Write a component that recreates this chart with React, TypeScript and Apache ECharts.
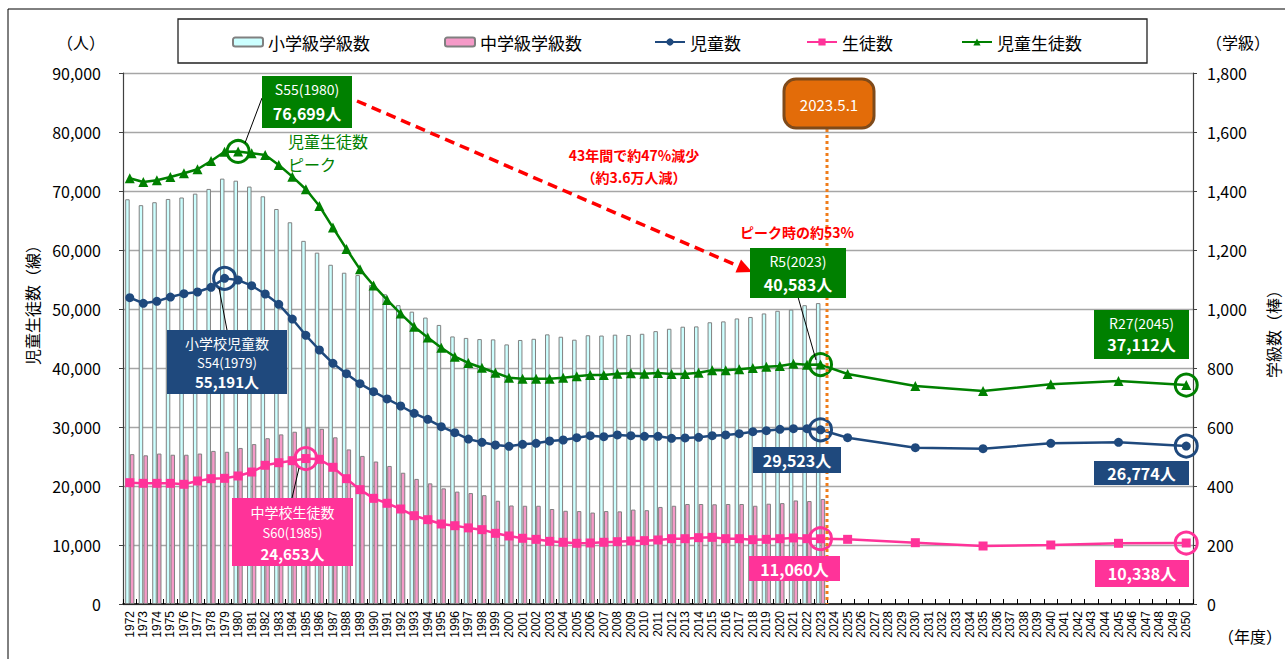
import React, { useEffect, useRef } from "react";
import * as echarts from "echarts";

const years = [
  "1972","1973","1974","1975","1976","1977","1978","1979","1980","1981",
  "1982","1983","1984","1985","1986","1987","1988","1989","1990","1991",
  "1992","1993","1994","1995","1996","1997","1998","1999","2000","2001",
  "2002","2003","2004","2005","2006","2007","2008","2009","2010","2011",
  "2012","2013","2014","2015","2016","2017","2018","2019","2020","2021",
  "2022","2023","2024","2025","2026","2027","2028","2029","2030","2031",
  "2032","2033","2034","2035","2036","2037","2038","2039","2040","2041",
  "2042","2043","2044","2045","2046","2047","2048","2049","2050",
];

// classes (bars, right axis), 1972-2023
const elemClasses = [
  1372, 1352, 1362, 1373, 1378, 1391, 1407, 1442, 1435, 1415,
  1382, 1339, 1294, 1231, 1191, 1150, 1123, 1115, 1081, 1050,
  1013, 991, 971, 946, 907, 902, 898, 897, 880, 895,
  899, 914, 906, 896, 911, 910, 913, 912, 916, 925,
  933, 940, 941, 955, 958, 968, 973, 985, 994, 998,
  1013, 1020,
];
const midClasses = [
  508, 504, 510, 506, 506, 510, 519, 516, 529, 542,
  562, 575, 584, 598, 594, 565, 524, 502, 483, 468,
  445, 424, 409, 392, 381, 376, 369, 350, 334, 333,
  333, 322, 316, 315, 310, 315, 314, 320, 318, 329,
  333, 339, 339, 338, 339, 339, 333, 340, 342, 351,
  349, 356,
];

// students (lines, left axis), 1972-2023
const elemStudents = [
  51920, 50970, 51300, 52030, 52600, 52880, 53680, 55191, 54900, 53950,
  52540, 50800, 48300, 45540, 43050, 40800, 39040, 37340, 35990, 34750,
  33560, 32320, 31300, 30050, 29030, 27950, 27400, 26950, 26730, 27070,
  27240, 27630, 27800, 28190, 28530, 28360, 28650, 28530, 28420, 28420,
  28080, 28140, 28250, 28530, 28650, 28860, 29200, 29370, 29600, 29710,
  29710, 29523,
];
const midStudents = [
  20560, 20450, 20450, 20450, 20290, 20850, 21240, 21300, 21700, 22370,
  23510, 23950, 24290, 24653, 24520, 23170, 21240, 19380, 17910, 17070,
  16100, 14970, 14290, 13560, 13270, 12900, 12600, 11980, 11530, 11140,
  10960, 10620, 10460, 10290, 10340, 10460, 10560, 10680, 10740, 10850,
  11070, 11070, 11240, 11300, 11070, 11070, 10900, 10960, 11070, 11190,
  11070, 11060,
];
const totalStudents = [
  72150, 71530, 71820, 72370, 73000, 73680, 75090, 76660, 76699, 76390,
  76100, 74400, 72430, 70290, 67460, 63800, 60170, 56720, 53990, 51530,
  49230, 47000, 45170, 43440, 41920, 40850, 40050, 39200, 38360, 38190,
  38190, 38190, 38360, 38590, 38810, 38810, 39040, 39100, 39040, 39150,
  38980, 38980, 39200, 39610, 39610, 39780, 40000, 40220, 40340, 40730,
  40560, 40583,
];

// projections
const futureYears = ["2025", "2030", "2035", "2040", "2045", "2050"];
const elemFuture = [28190, 26500, 26330, 27240, 27400, 26774];
const midFuture = [10960, 10390, 9830, 10000, 10290, 10338];
const totalFuture = [38980, 36950, 36100, 37240, 37800, 37112];

const leftTicks = [0, 10000, 20000, 30000, 40000, 50000, 60000, 70000, 80000, 90000];

const JP = '"Noto Sans CJK JP", sans-serif';
const NAVY = "#1f497d";
const PINK = "#ff3399";
const GREEN = "#008000";

function full(hist: number[], fut: number[]) {
  return years.map((y, i) => {
    if (i < hist.length) return hist[i];
    const k = futureYears.indexOf(y);
    return k >= 0 ? fut[k] : null;
  });
}

function box(x: number, y: number, w: number, h: number, fill: string, lines: { t: string; y: number; bold?: boolean; size?: number }[]) {
  const els: any[] = [
    { type: "rect", z: 100, shape: { x, y, width: w, height: h }, style: { fill } },
  ];
  lines.forEach((l) => {
    els.push({
      type: "text",
      z: 101,
      x: x + w / 2,
      y: l.y,
      style: {
        text: l.t,
        fill: "#fff",
        font: `${l.bold ? "bold " : ""}${l.size || 14}px ${JP}`,
        textAlign: "center",
        textVerticalAlign: "middle",
      },
    });
  });
  return els;
}

function leader(x1: number, y1: number, x2: number, y2: number) {
  return { type: "line", z: 99, shape: { x1, y1, x2, y2 }, style: { stroke: "#000", lineWidth: 1 } };
}

function txt(t: string, x: number, y: number, fill: string, size: number, bold = false, align = "center", rotation = 0) {
  return {
    type: "text",
    z: 101,
    x,
    y,
    rotation,
    style: {
      text: t,
      fill,
      font: `${bold ? "bold " : ""}${size}px ${JP}`,
      textAlign: align,
      textVerticalAlign: "middle",
    },
  };
}

function ringPoints(color: string, pts: [string, number][]) {
  return {
    symbol: "circle",
    symbolSize: 22,
    silent: true,
    label: { show: false },
    itemStyle: { color: "rgba(0,0,0,0)", borderColor: color, borderWidth: 3 },
    data: pts.map((p) => ({ coord: p })),
  };
}

export default function App() {
  const ref = useRef<HTMLDivElement>(null);
  useEffect(() => {
    document.body.style.margin = "0";
    const chart = echarts.init(ref.current!, null, { renderer: "svg" });

    // arrow
    const tip = [752, 272];
    const start = [357, 101];
    const dx = tip[0] - start[0];
    const dy = tip[1] - start[1];
    const len = Math.sqrt(dx * dx + dy * dy);
    const ux = dx / len;
    const uy = dy / len;
    const bx = tip[0] - 15 * ux;
    const by = tip[1] - 15 * uy;
    const nx = -uy;
    const ny = ux;

    const graphics: any[] = [
      { type: "rect", z: 0, shape: { x: 8, y: 9, width: 1300, height: 700 }, style: { fill: "none", stroke: "#000", lineWidth: 1 } },
      { type: "rect", z: 0, shape: { x: 178, y: 19, width: 969, height: 44 }, style: { fill: "none", stroke: "#222", lineWidth: 1.3 } },
      txt("（人）", 81, 42, "#000", 16),
      txt("（学級）", 1238, 42, "#000", 16),
      txt("（年度）", 1250, 636, "#000", 16),
      txt("児童生徒数（線）", 32, 301, "#000", 16, false, "center", Math.PI / 2),
      txt("学級数（棒）", 1273, 330, "#000", 16, false, "center", Math.PI / 2),
      // orange date line and box
      { type: "line", z: 98, shape: { x1: 827, y1: 129, x2: 827, y2: 604 }, style: { stroke: "#f07d1a", lineWidth: 3, lineDash: [3, 3] } },
      { type: "rect", z: 100, shape: { x: 784, y: 79, width: 90, height: 49, r: 12 }, style: { fill: "#e36c09", stroke: "#7f4a1a", lineWidth: 3 } },
      txt("2023.5.1", 829, 104, "#fff", 15),
      // red arrow
      { type: "line", z: 99, shape: { x1: start[0], y1: start[1], x2: bx, y2: by }, style: { stroke: "#ff0000", lineWidth: 3.5, lineDash: [10, 6] } },
      { type: "polygon", z: 99, shape: { points: [[tip[0], tip[1]], [bx + 7 * nx, by + 7 * ny], [bx - 7 * nx, by - 7 * ny]] }, style: { fill: "#ff0000" } },
      txt("43年間で約47%減少", 634, 155, "#ff0000", 14, true),
      txt("（約3.6万人減）", 634, 177, "#ff0000", 14, true),
      txt("ピーク時の約53%", 797, 232, "#ff0000", 14, true),
      txt("児童生徒数", 288, 141, GREEN, 16, false, "left"),
      txt("ピーク", 288, 164, GREEN, 16, false, "left"),
      leader(262, 98, 245, 143),
      ...box(262, 76, 90, 52, GREEN, [
        { t: "S55(1980)", y: 89, size: 14 },
        { t: "76,699人", y: 113, bold: true, size: 16 },
      ]),
      leader(798, 297, 816, 360),
      ...box(750, 248, 96, 50, GREEN, [
        { t: "R5(2023)", y: 261, size: 14 },
        { t: "40,583人", y: 284, bold: true, size: 16 },
      ]),
      ...box(753, 447, 88, 26, NAVY, [{ t: "29,523人", y: 460, bold: true, size: 16 }]),
      ...box(749, 556, 91, 25, PINK, [{ t: "11,060人", y: 569, bold: true, size: 16 }]),
      leader(227, 330, 219, 288),
      ...box(167, 330, 120, 64, NAVY, [
        { t: "小学校児童数", y: 343, size: 14 },
        { t: "S54(1979)", y: 362, size: 13 },
        { t: "55,191人", y: 381, bold: true, size: 15 },
      ]),
      leader(292, 498, 299, 468),
      ...box(232, 498, 121, 68, PINK, [
        { t: "中学校生徒数", y: 512, size: 14 },
        { t: "S60(1985)", y: 532, size: 13 },
        { t: "24,653人", y: 553, bold: true, size: 15 },
      ]),
      ...box(1094, 310, 95, 49, GREEN, [
        { t: "R27(2045)", y: 323, size: 14 },
        { t: "37,112人", y: 344, bold: true, size: 16 },
      ]),
      ...box(1094, 461, 95, 24, NAVY, [{ t: "26,774人", y: 473, bold: true, size: 16 }]),
      ...box(1095, 560, 94, 27, PINK, [{ t: "10,338人", y: 573, bold: true, size: 16 }]),
    ];

    const legendBase = (name: string, left: number) => ({
      data: [name],
      left,
      top: 31,
      padding: 0,
      itemWidth: 30,
      itemHeight: 9,
      textStyle: { fontSize: 17, color: "#000", fontFamily: JP, lineHeight: 22 },
    });

    chart.setOption({
      animation: false,
      textStyle: { fontFamily: JP },
      grid: { left: 123, right: 92, top: 73, bottom: 55, containLabel: false },
      legend: [
        legendBase("小学級学級数", 232),
        legendBase("中学級学級数", 444),
        legendBase("児童数", 654),
        legendBase("生徒数", 806),
        legendBase("児童生徒数", 961),
      ],
      xAxis: {
        type: "category",
        data: years,
        boundaryGap: true,
        axisLine: { lineStyle: { color: "#000", width: 1.5 } },
        axisTick: { show: true, inside: true, length: 5, interval: 0, lineStyle: { color: "#000" } },
        axisLabel: { interval: 0, rotate: 90, fontSize: 12, color: "#000", margin: 7, fontFamily: '"Liberation Sans", sans-serif' },
      },
      yAxis: [
        {
          type: "value",
          min: 0,
          max: 90000,
          interval: 10000,
          axisLine: { show: true, lineStyle: { color: "#404040", width: 1.2 } },
          axisTick: { show: true, length: 4, lineStyle: { color: "#404040" } },
          splitLine: { show: true, lineStyle: { color: "#a6a6a6", width: 1.3 } },
          axisLabel: {
            fontSize: 16,
            color: "#000",
            margin: 22,
            fontFamily: JP,
            formatter: (v: number) => (leftTicks.indexOf(v) >= 0 ? v.toLocaleString("en-US") : ""),
          },
        },
        {
          type: "value",
          min: 0,
          max: 1800,
          interval: 200,
          axisLine: { show: true, lineStyle: { color: "#404040", width: 1.2 } },
          axisTick: { show: true, length: 4, lineStyle: { color: "#404040" } },
          splitLine: { show: false },
          axisLabel: {
            fontSize: 16,
            color: "#000",
            margin: 14,
            fontFamily: JP,
            formatter: (v: number) => v.toLocaleString("en-US"),
          },
        },
      ],
      series: [
        {
          name: "小学級学級数",
          type: "bar",
          yAxisIndex: 1,
          data: elemClasses,
          barWidth: 4.5,
          barGap: "5%",
          itemStyle: { color: "#ccffff", borderColor: "#808080", borderWidth: 1 },
        },
        {
          name: "中学級学級数",
          type: "bar",
          yAxisIndex: 1,
          data: midClasses,
          barWidth: 4.5,
          barGap: "5%",
          itemStyle: { color: "#f59ac8", borderColor: "#808080", borderWidth: 1 },
        },
        {
          name: "児童数",
          type: "line",
          yAxisIndex: 0,
          z: 5,
          data: full(elemStudents, elemFuture),
          connectNulls: true,
          symbol: "circle",
          symbolSize: 9,
          lineStyle: { color: NAVY, width: 2.5 },
          itemStyle: { color: NAVY },
          markPoint: ringPoints(NAVY, [["1979", 55191], ["2023", 29523], ["2050", 26774]]),
        },
        {
          name: "生徒数",
          type: "line",
          yAxisIndex: 0,
          z: 5,
          data: full(midStudents, midFuture),
          connectNulls: true,
          symbol: "rect",
          symbolSize: 9,
          lineStyle: { color: PINK, width: 2.5 },
          itemStyle: { color: PINK },
          markPoint: ringPoints(PINK, [["1985", 24653], ["2023", 11060], ["2050", 10338]]),
        },
        {
          name: "児童生徒数",
          type: "line",
          yAxisIndex: 0,
          z: 5,
          data: full(totalStudents, totalFuture),
          connectNulls: true,
          symbol: "triangle",
          symbolSize: 10,
          lineStyle: { color: GREEN, width: 2.5 },
          itemStyle: { color: GREEN },
          markPoint: ringPoints(GREEN, [["1980", 76699], ["2023", 40583], ["2050", 37112]]),
        },
      ],
      graphic: graphics,
    });
    return () => chart.dispose();
  }, []);
  return <div ref={ref} style={{ width: 1285, height: 659 }} />;
}
